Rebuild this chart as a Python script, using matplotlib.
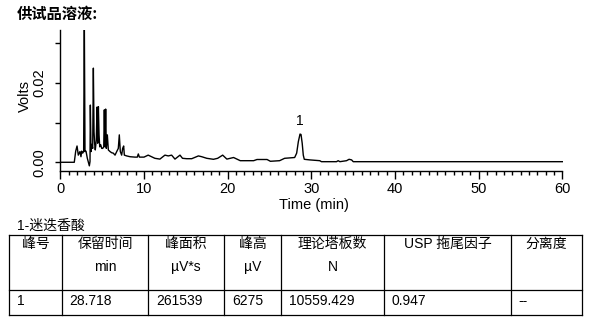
import matplotlib
matplotlib.use("Agg")
import matplotlib.pyplot as plt
from matplotlib.lines import Line2D

plt.rcParams['font.family'] = ['Liberation Sans', 'Noto Sans CJK SC']

# ---- data ----
times = [0.0, 1.67, 1.84, 2.0, 2.15, 2.35, 2.47, 2.55, 2.67, 2.79, 2.87, 2.95, 3.07, 3.23,
         3.47, 3.55, 3.59, 3.67, 3.75, 3.87, 3.95, 4.03, 4.10, 4.18, 4.30, 4.39, 4.47, 4.55,
         4.63, 4.71, 4.83, 4.95, 5.07, 5.19, 5.26, 5.34, 5.42, 5.50, 5.62, 5.74, 5.94, 6.14,
         6.33, 6.54, 6.74, 6.93, 7.05, 7.17, 7.33, 7.45, 7.57, 7.65, 7.93, 8.33, 8.92, 9.2,
         9.32, 9.45, 10.0, 10.5, 10.9, 11.3, 11.9, 12.5, 12.9, 13.3, 13.7, 14.3, 14.6, 15.1,
         15.7, 16.5, 16.9, 17.5, 18.3, 18.8, 19.4, 19.9, 20.7, 21.1, 21.5, 23.1, 23.5, 24.7,
         25.1, 26.2, 26.8, 28.0, 28.24, 28.44, 28.64, 28.76, 28.90, 29.03, 29.15, 29.8, 31.0,
         31.2, 33.0, 33.2, 33.4, 34.2, 34.5, 34.8, 35.0, 60.0]
volts = [0.0, 0.0, 0.0028, 0.0041, 0.0018, 0.0027, 0.0014, 0.0028, 0.0023, 0.0027, 0.036, 0.0027,
         0.0028, 0.0010, -0.0009, 0.0002, 0.0144, 0.0027, 0.0045, 0.0035, 0.0237, 0.0077, 0.0048,
         0.0031, 0.0056, 0.0139, 0.0048, 0.0140, 0.0069, 0.0039, 0.0044, 0.0035, 0.0035, 0.0039,
         0.0132, 0.0039, 0.0134, 0.0035, 0.0069, 0.0031, 0.0027, 0.0024, 0.0023, 0.0018, 0.0027,
         0.0035, 0.0069, 0.0027, 0.0018, 0.0035, 0.0041, 0.0018, 0.0016, 0.0014, 0.0013, 0.0013,
         0.0021, 0.0013, 0.0013, 0.0018, 0.0014, 0.0010, 0.0008, 0.0018, 0.0016, 0.0018, 0.0008,
         0.0018, 0.0010, 0.0009, 0.0009, 0.0016, 0.0014, 0.0010, 0.00075, 0.0010, 0.0018, 0.0008,
         0.0012, 0.0008, 0.0004, 0.0004, 0.0007, 0.0007, 0.00025, 0.0004, 0.0010, 0.0012, 0.0023,
         0.0052, 0.0071, 0.0070, 0.0048, 0.0018, 0.00075, 0.0006, 0.0004, 0.00015, 0.00015, 0.0004,
         0.00015, 0.0004, 0.00075, 0.0006, 0.00015, 0.00015]

peak_label = "1"
peak_time = 28.64
peak_volts = 0.0071

x_ticks = [0, 10, 20, 30, 40, 50, 60]
y_ticks = [0.00, 0.01, 0.02, 0.03]
y_ticklabels = ["0.00", "", "0.02", ""]

title = "供试品溶液:"
caption = "1-迷迭香酸"
header_line1 = ["峰号", "保留时间", "峰面积", "峰高", "理论塔板数", "USP 拖尾因子", "分离度"]
header_line2 = ["", "min", "µV*s", "µV", "N", "", ""]
row_values = ["1", "28.718", "261539", "6275", "10559.429", "0.947", "--"]

# ---- figure ----
W, H = 603, 327
fig = plt.figure(figsize=(W / 100, H / 100), dpi=100)

def fx(px):
    return px / W

def fy(py):
    return 1 - py / H

narrow = ['Liberation Sans Narrow', 'Liberation Sans']

ax_left, ax_right, ax_top, ax_bottom = 60.3, 562.5, 30.0, 170.7
ax = fig.add_axes([fx(ax_left), fy(ax_bottom), fx(ax_right - ax_left), (ax_bottom - ax_top) / H])
ax.plot(times, volts, color='black', lw=1.0)
ax.set_xlim(0, 60)
ax.set_ylim(-0.00212, 0.0333)
for s in ['top', 'right']:
    ax.spines[s].set_visible(False)
for s in ['left', 'bottom']:
    ax.spines[s].set_linewidth(1.0)

ax.set_xticks(x_ticks)
ax.set_xticks(range(0, 61), minor=True)
ax.tick_params(axis='x', which='major', length=5.5, width=1.0, pad=2.5, labelsize=10.5)
ax.tick_params(axis='x', which='minor', length=3.0, width=1.0)
ax.set_yticks(y_ticks)
ax.set_yticklabels(y_ticklabels, rotation=90, va='center')
ax.tick_params(axis='y', which='major', length=3.6, width=1.0, pad=6.5, labelsize=10.5)
for lab in ax.get_xticklabels() + ax.get_yticklabels():
    lab.set_family(narrow)

ax.text(peak_time, peak_volts + 0.0016, peak_label, ha='center', va='bottom', fontsize=10,
        family=narrow)

fig.text(fx(24.5), fy(96), "Volts", rotation=90, ha='center', va='center', fontsize=10.5,
         family=narrow)
fig.text(fx(314), fy(204.7), "Time (min)", ha='center', va='center', fontsize=10.5,
         family=narrow)

fig.text(fx(17), fy(13.5), title, ha='left', va='center', fontsize=11, fontweight='bold',
         family=['Noto Sans CJK SC'])

# ---- table ----
fig.text(fx(16.5), fy(226), caption, ha='left', va='center', fontsize=10)
col_edges = [9.3, 61.7, 148.3, 224.3, 281.0, 384.3, 511.3, 581.7]
row_edges = [235.0, 290.0, 315.3]
for yy in row_edges:
    fig.add_artist(Line2D([fx(col_edges[0]), fx(col_edges[-1])], [fy(yy), fy(yy)],
                          color='black', lw=0.9))
for xx in col_edges:
    fig.add_artist(Line2D([fx(xx), fx(xx)], [fy(row_edges[0]), fy(row_edges[-1])],
                          color='black', lw=0.9))
for i in range(len(header_line1)):
    cx = (col_edges[i] + col_edges[i + 1]) / 2
    fig.text(fx(cx), fy(244), header_line1[i], ha='center', va='center', fontsize=10)
    if header_line2[i]:
        fig.text(fx(cx), fy(266.7), header_line2[i], ha='center', va='center', fontsize=10)
    fig.text(fx(col_edges[i] + 7.5), fy(301), row_values[i], ha='left', va='center', fontsize=10)

fig.savefig("out.png", dpi=100)
